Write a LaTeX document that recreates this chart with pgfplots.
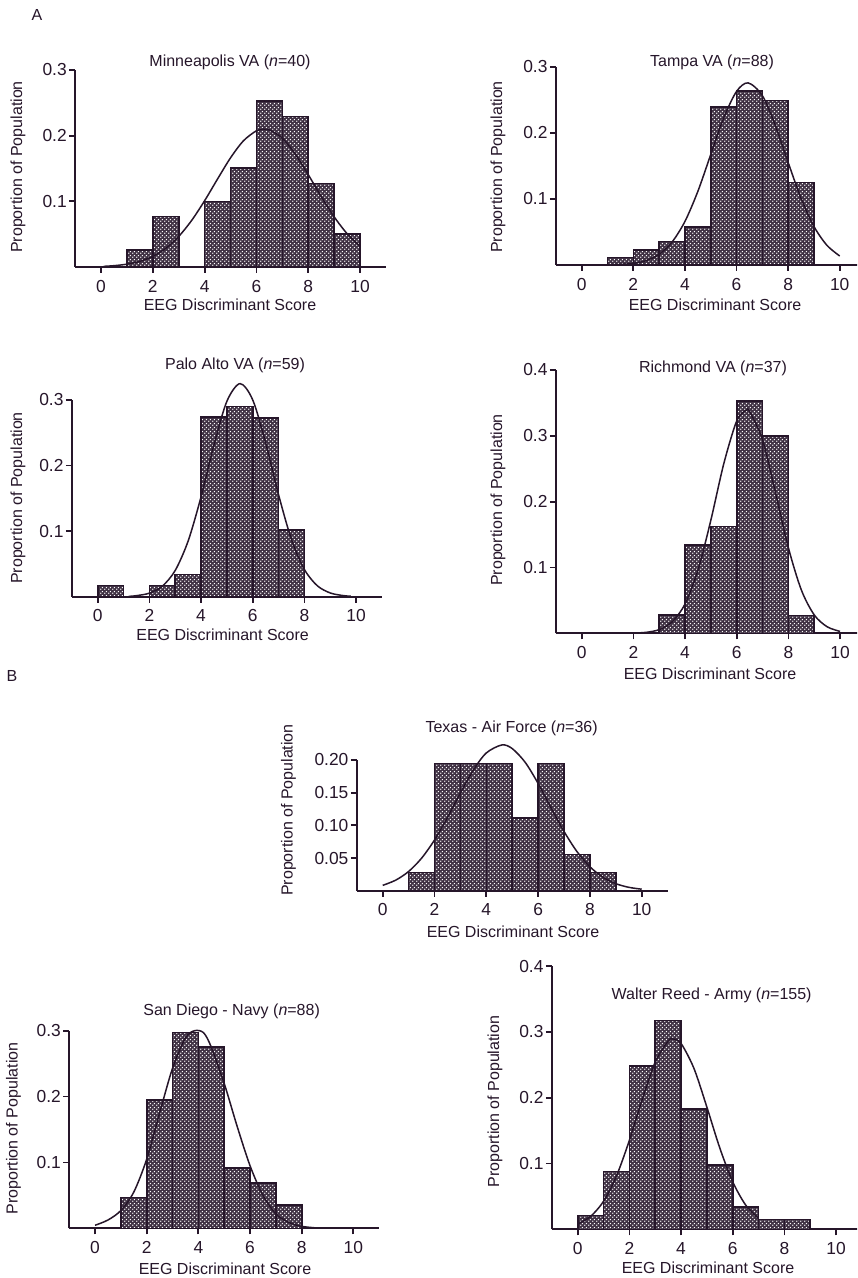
\documentclass[border=0pt]{standalone}
\usepackage{pgfplots}
\pgfplotsset{compat=1.18}
\usepackage{fontspec}
\setmainfont{Liberation Sans}
\usetikzlibrary{patterns}

\definecolor{ink}{RGB}{38,22,42}

% fine white dots on the dark bar fill
\pgfdeclarepatternformonly{finedots}{\pgfqpoint{0pt}{0pt}}{\pgfqpoint{2pt}{2pt}}{\pgfqpoint{2pt}{2pt}}{%
  \pgfpathcircle{\pgfqpoint{0.5pt}{0.5pt}}{0.45pt}%
  \pgfpathcircle{\pgfqpoint{1.5pt}{1.5pt}}{0.45pt}%
  \pgfusepath{fill}}

\newcommand\lab{\fontsize{8}{9.6}\selectfont}

\pgfplotsset{
  panel/.style={
    scale only axis, anchor=south west,
    axis lines=left, axis line style={-, line width=1.1pt, ink},
    xmin=-1, xmax=11, ymin=0,
    xtick={0,2,...,10},
    tick align=outside, major tick length=3pt,
    tick style={line width=0.9pt, ink},
    ticklabel style={font=\fontsize{8.7}{10}\selectfont, text=ink},
    yticklabel style={inner xsep=1pt},
    /pgf/number format/assume math mode=true,
    clip=false,
  },
  hist/.style={ybar interval, draw=ink, line width=0.8pt, fill=ink!88,
    postaction={pattern=finedots, pattern color=white}},
  fit/.style={ink, line width=0.75pt, smooth},
}

\begin{document}
\begin{tikzpicture}
\useasboundingbox (0,0) rectangle (428.5pt,-639pt);
\clip (0,0) rectangle (428.5pt,-639pt);
\fill[white] (0,0) rectangle (428.5pt,-639pt);

% Minneapolis
\begin{axis}[panel, at={(37.55pt,-133.5pt)}, width=155.4pt, height=98.5pt,
  ymax=0.3, ytick={0.1,0.2,0.3}, yticklabels={0.1,0.2,0.3}]
\addplot[hist] coordinates {(1,0.026) (2,0.077) (3,0) (4,0.1) (5,0.151) (6,0.253) (7,0.229) (8,0.127) (9,0.05) (10,0)};
\addplot[fit] coordinates {(0.1,0.001) (0.5,0.002) (1,0.0043) (1.5,0.0086) (2,0.0162) (2.5,0.0284) (3,0.0465) (3.5,0.0709) (4,0.1009) (4.5,0.134) (5,0.1662) (5.5,0.1922) (6,0.2074) (6.3,0.21) (6.5,0.2088) (7,0.1962) (7.5,0.172) (8,0.1407) (8.5,0.1074) (9,0.0765) (9.5,0.0508) (10,0.0315)};
\end{axis}

% Tampa
\begin{axis}[panel, at={(277.95pt,-132.5pt)}, width=154.8pt, height=99.15pt,
  ymax=0.3, ytick={0.1,0.2,0.3}, yticklabels={0.1,0.2,0.3}]
\addplot[hist] coordinates {(1,0.0114) (2,0.0227) (3,0.0355) (4,0.0575) (5,0.2386) (6,0.263) (7,0.249) (8,0.125) (9,0)};
\addplot[fit] coordinates {(1,0.0002) (1.5,0.0008) (2,0.0025) (2.5,0.0067) (3,0.0161) (3.5,0.0346) (4,0.0658) (4.5,0.1112) (5,0.1669) (5.5,0.2222) (6,0.2625) (6.45,0.2755) (7,0.2563) (7.5,0.2118) (8,0.1553) (8.5,0.1011) (9,0.0584) (9.5,0.03) (10,0.0136)};
\end{axis}

% Palo Alto
\begin{axis}[panel, at={(35.95pt,-298.35pt)}, width=155pt, height=98.35pt,
  ymax=0.3, ytick={0.1,0.2,0.3}, yticklabels={0.1,0.2,0.3}]
\addplot[hist] coordinates {(0,0.0169) (1,0) (2,0.0169) (3,0.0339) (4,0.274) (5,0.29) (6,0.273) (7,0.102) (8,0)};
\addplot[fit] coordinates {(1.2,0.0005) (1.5,0.0016) (2,0.0054) (2.5,0.016) (3,0.0401) (3.5,0.085) (4,0.1524) (4.5,0.2316) (5,0.2981) (5.51,0.325) (6,0.3001) (6.5,0.2347) (7,0.1555) (7.5,0.0872) (8,0.0415) (8.5,0.0167) (9,0.0057) (9.5,0.0017) (9.8,0.0007)};
\end{axis}

% Richmond
\begin{axis}[panel, at={(277.95pt,-316.65pt)}, width=155pt, height=131.65pt,
  ymax=0.4, ytick={0.1,0.2,0.3,0.4}, yticklabels={0.1,0.2,0.3,0.4}]
\addplot[hist] coordinates {(3,0.0275) (4,0.1345) (5,0.162) (6,0.353) (7,0.2995) (8,0.027) (9,0)};
\addplot[fit] coordinates {(2,0.0003) (2.5,0.0015) (3,0.0056) (3.5,0.0174) (4,0.0447) (4.5,0.096) (5,0.1722) (5.5,0.2579) (6,0.3227) (6.37,0.339) (6.5,0.3369) (7,0.2938) (7.5,0.2138) (8,0.1299) (8.5,0.0659) (9,0.0279) (9.5,0.0099) (10,0.0029)};
\end{axis}

% Texas - Air Force
\begin{axis}[panel, at={(178.4pt,-445.35pt)}, width=155.4pt, height=65.35pt,
  ymax=0.2, ytick={0.05,0.1,0.15,0.2}, yticklabels={0.05,0.10,0.15,0.20}]
\addplot[hist] coordinates {(1,0.0278) (2,0.1944) (3,0.1944) (4,0.1944) (5,0.1111) (6,0.1944) (7,0.0556) (8,0.0278) (9,0)};
\addplot[fit] coordinates {(0,0.0082) (0.5,0.0161) (1,0.0294) (1.5,0.0497) (2,0.0776) (2.5,0.112) (3,0.1495) (3.5,0.1846) (4,0.2108) (4.6,0.223) (5,0.2175) (5.5,0.1965) (6,0.1642) (6.5,0.1269) (7,0.0907) (7.5,0.0599) (8,0.0366) (8.5,0.0207) (9,0.0108) (9.5,0.0052) (10,0.0023)};
\end{axis}

% San Diego - Navy
\begin{axis}[panel, at={(34.6pt,-614.15pt)}, width=155pt, height=98.8pt,
  ymax=0.3, ytick={0.1,0.2,0.3}, yticklabels={0.1,0.2,0.3}]
\addplot[hist] coordinates {(1,0.047) (2,0.195) (3,0.297) (4,0.275) (5,0.092) (6,0.069) (7,0.035) (8,0)};
\addplot[fit] coordinates {(0,0.0046) (0.5,0.0126) (1,0.027) (1.5,0.055) (2,0.105) (2.5,0.175) (3,0.243) (3.5,0.289) (3.85,0.3) (4.2,0.297) (4.5,0.275) (5,0.22) (5.5,0.155) (6,0.095) (6.5,0.05) (7,0.022) (7.5,0.009) (8,0.003) (8.5,0.0008)};
\end{axis}

% Walter Reed - Army
\begin{axis}[panel, at={(275.95pt,-614.65pt)}, width=155pt, height=131.65pt,
  ymax=0.4, ytick={0.1,0.2,0.3,0.4}, yticklabels={0.1,0.2,0.3,0.4}]
\addplot[hist] coordinates {(0,0.0207) (1,0.088) (2,0.248) (3,0.317) (4,0.183) (5,0.098) (6,0.034) (7,0.015) (8,0.015) (9,0)};
\addplot[fit] coordinates {(0,0.008) (0.5,0.0197) (1,0.0426) (1.5,0.0811) (2,0.1353) (2.5,0.198) (3,0.2541) (3.5,0.286) (3.7,0.289) (4,0.2823) (4.5,0.2443) (5,0.1855) (5.5,0.1234) (6,0.0721) (6.5,0.0369) (7,0.0166)};
\end{axis}

% titles and labels
\begin{scope}[every node/.style={font=\lab, text=ink, inner sep=0pt}]
\node at (18.5pt,-7.5pt) {A};
\node at (6pt,-338pt) {B};
\node at (115pt,-31pt) {Minneapolis VA (\textit{n}=40)};
\node at (356pt,-31pt) {Tampa VA (\textit{n}=88)};
\node at (117.5pt,-182.5pt) {Palo Alto VA (\textit{n}=59)};
\node at (356.5pt,-184pt) {Richmond VA (\textit{n}=37)};
\node at (255.8pt,-364.2pt) {Texas - Air Force (\textit{n}=36)};
\node at (115.8pt,-505.8pt) {San Diego - Navy (\textit{n}=88)};
\node at (355.8pt,-497.5pt) {Walter Reed - Army (\textit{n}=155)};
\node at (115pt,-152.5pt) {EEG Discriminant Score};
\node at (357.5pt,-152.5pt) {EEG Discriminant Score};
\node at (111.3pt,-317.5pt) {EEG Discriminant Score};
\node at (355pt,-337pt) {EEG Discriminant Score};
\node at (256.5pt,-465.8pt) {EEG Discriminant Score};
\node at (112.5pt,-634.2pt) {EEG Discriminant Score};
\node at (354pt,-634pt) {EEG Discriminant Score};
\node[rotate=90] at (9pt,-83.5pt) {Proportion of Population};
\node[rotate=90] at (249pt,-83.5pt) {Proportion of Population};
\node[rotate=90] at (9pt,-249pt) {Proportion of Population};
\node[rotate=90] at (249pt,-250pt) {Proportion of Population};
\node[rotate=90] at (144.2pt,-405pt) {Proportion of Population};
\node[rotate=90] at (6.7pt,-564.2pt) {Proportion of Population};
\node[rotate=90] at (247.5pt,-550.8pt) {Proportion of Population};
\end{scope}
\end{tikzpicture}
\end{document}
